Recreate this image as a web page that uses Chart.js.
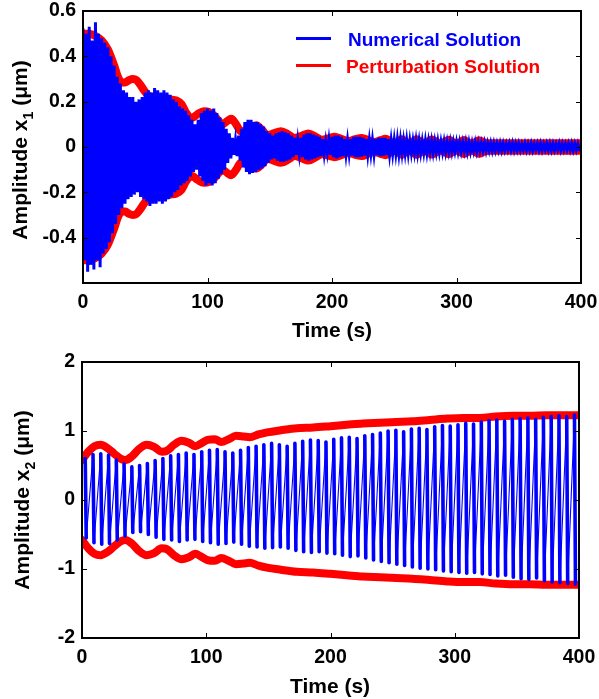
<!DOCTYPE html>
<html><head><meta charset="utf-8">
<script src="https://cdn.jsdelivr.net/npm/chart.js@4"></script>
<style>
html,body{margin:0;padding:0;background:#fff;}
body{width:599px;height:699px;position:relative;overflow:hidden;font-family:"Liberation Sans",Arial,sans-serif;}
canvas{position:absolute;left:0;}
.t{position:absolute;font-weight:bold;white-space:nowrap;color:#000;line-height:24px;}
.yt{font-size:21px;transform:translate(-50%,-50%) rotate(-90deg);}
.xt{font-size:21px;transform:translateX(-50%);}
.sub{font-size:14px;position:relative;top:6px;}
.lg{position:absolute;height:3px;}
</style></head>
<body>
<canvas id="c1" width="599" height="345" style="top:0;width:599px;height:345px"></canvas>
<canvas id="c2" width="599" height="354" style="top:345px;width:599px;height:354px"></canvas>

<div class="t yt" style="left:21px;top:150px">Amplitude x<span class="sub">1</span> (μm)</div>
<div class="t xt" style="left:332px;top:318px">Time (s)</div>
<div class="t yt" style="left:23px;top:500px">Amplitude x<span class="sub">2</span> (μm)</div>
<div class="t xt" style="left:330px;top:674px">Time (s)</div>

<div class="lg" style="left:296px;top:37px;width:35px;background:#0000ff"></div>
<div class="t" style="left:348px;top:28px;font-size:19px;color:#0000ff">Numerical Solution</div>
<div class="lg" style="left:296px;top:64px;width:35px;background:#ff0000"></div>
<div class="t" style="left:346px;top:55px;font-size:19px;color:#ff0000">Perturbation Solution</div>

<script>
// ---------- DATA ----------
// Axis ticks
const timeTicks = [0, 100, 200, 300, 400];
const x1Ticks = [-0.6, -0.4, -0.2, 0, 0.2, 0.4, 0.6];
const x2Ticks = [-2, -1, 0, 1, 2];

// Top plot: numerical solution x1, upper peaks (every 2.5 s) and lower troughs (offset 1.25 s)
const x1PeakStep = 2.5;
const x1Up = [
 0.52,0.50,0.53,0.47,0.55,0.50,0.48,0.46,0.44,0.40,0.36,0.31,0.28,0.25,0.24,0.22,
 0.22,0.20,0.21,0.22,0.24,0.25,0.24,0.26,0.25,0.24,0.25,0.24,0.23,0.21,0.20,0.18,
 0.17,0.16,0.14,0.12,0.10,0.12,0.15,0.16,0.17,0.16,0.17,0.15,0.13,0.11,0.08,0.06,
 0.04,0.03,0.05,0.08,0.11,0.12,0.12,0.11,0.11,0.10,0.09,0.07,0.06,0.05,0.06,0.065,
 0.07,0.065,0.06,0.05,0.04,0.03,0.04,0.055,0.06,0.06,0.055,0.05,0.045,0.035,0.025,0.03,
 0.045,0.05,0.05,0.045,0.035,0.03,0.035,0.045,0.045,0.045,0.04,0.035,0.03,0.03,0.035,0.04,
 0.04,0.04,0.035,0.03,0.03,0.032,0.03,0.028,0.03,0.027,0.025,0.028,0.026,0.025,0.027,0.024,
 0.025,0.023,0.024,0.022,0.023,0.021,0.022,0.02,0.021,0.02,0.019,0.021,0.02,0.018,0.019,0.018,
 0.017,0.018,0.016,0.017,0.016,0.015,0.016,0.015,0.014,0.015,0.016,0.014,0.015,0.013,0.015,0.014,
 0.015,0.013,0.014,0.015,0.013,0.014,0.015,0.014,0.013,0.015,0.014,0.013,0.014,0.015,0.014,0.014
];
const x1Dn = [
 -0.50,-0.55,-0.52,-0.54,-0.50,-0.53,-0.47,-0.45,-0.42,-0.38,-0.34,-0.30,-0.27,-0.25,-0.23,-0.22,
 -0.21,-0.20,-0.22,-0.23,-0.24,-0.26,-0.25,-0.25,-0.24,-0.25,-0.24,-0.23,-0.22,-0.20,-0.19,-0.17,
 -0.16,-0.15,-0.13,-0.11,-0.10,-0.13,-0.15,-0.17,-0.16,-0.17,-0.16,-0.14,-0.12,-0.10,-0.07,-0.05,
 -0.035,-0.04,-0.06,-0.09,-0.11,-0.12,-0.115,-0.11,-0.10,-0.095,-0.085,-0.07,-0.055,-0.05,-0.06,-0.065,
 -0.065,-0.06,-0.055,-0.045,-0.035,-0.03,-0.045,-0.055,-0.06,-0.055,-0.05,-0.045,-0.04,-0.03,-0.025,-0.035,
 -0.045,-0.05,-0.045,-0.04,-0.032,-0.03,-0.038,-0.045,-0.045,-0.042,-0.038,-0.033,-0.03,-0.032,-0.036,-0.04,
 -0.038,-0.036,-0.033,-0.03,-0.029,-0.031,-0.028,-0.027,-0.029,-0.026,-0.025,-0.027,-0.025,-0.024,-0.026,-0.023,
 -0.024,-0.022,-0.023,-0.021,-0.022,-0.02,-0.021,-0.019,-0.02,-0.019,-0.018,-0.02,-0.019,-0.017,-0.018,-0.017,
 -0.016,-0.017,-0.015,-0.016,-0.015,-0.014,-0.015,-0.014,-0.013,-0.014,-0.015,-0.013,-0.014,-0.012,-0.014,-0.013,
 -0.014,-0.012,-0.013,-0.014,-0.012,-0.013,-0.014,-0.013,-0.012,-0.014,-0.013,-0.012,-0.013,-0.014,-0.013,-0.013
];

// Top plot: perturbation envelope of x1 (time, amplitude)
const env1T = [0,5,10,15,20,25,28,31,34,37, 40,43,46,49,52,55,60,65,70,75,
 79,83,87,92,97,101,105,109,112,116, 119,123,127,133,139,144,148,153,159,165,
 170,176,181,187,192,197,202,208,213,218, 224,229,234,239,243,247,250,253,256,259,
 262,265,268,271,274,277,280,284,287,290, 294,297,300,303,306,309,312,315,318,322, 326,330,400];
const env1A = [0.50,0.50,0.49,0.47,0.43,0.36,0.31,0.285,0.285,0.295, 0.30,0.295,0.275,0.25,0.23,0.22,0.215,0.215,0.21,0.205,
 0.19,0.15,0.127,0.145,0.158,0.155,0.14,0.115,0.10,0.115, 0.125,0.10,0.068,0.08,0.096,0.075,0.052,0.06,0.07,0.055,
 0.04,0.05,0.06,0.045,0.032,0.038,0.045,0.035,0.026,0.033, 0.04,0.03,0.022,0.03,0.036,0.024,0.015,0.024,0.034,0.024,
 0.015,0.024,0.034,0.024,0.015,0.023,0.033,0.023,0.015,0.022, 0.032,0.022,0.015,0.022,0.031,0.022,0.015,0.021,0.03,0.021, 0.017,0.017,0.017];

// Bottom plot: numerical solution x2, one stroke per cycle (period ~6.25 s, first at 3 s)
const x2Start = 3, x2Period = 6.25;
const x2Up = [
 0.60,0.66,0.67,0.65,0.58,0.52,0.48,0.50,0.53,0.57,0.60,0.64,0.66,0.68,0.66,0.70,
 0.72,0.73,0.70,0.68,0.72,0.76,0.78,0.80,0.82,0.80,0.78,0.82,0.85,0.87,0.86,0.84,
 0.88,0.90,0.91,0.89,0.93,0.95,0.97,1.00,1.01,0.99,1.03,1.04,1.02,1.06,1.08,1.07,
 1.09,1.11,1.10,1.13,1.15,1.16,1.14,1.17,1.18,1.19,1.17,1.20,1.21,1.22,1.21,1.23
];
const x2Dn = [
 -0.55,-0.62,-0.64,-0.63,-0.58,-0.52,-0.47,-0.46,-0.50,-0.54,-0.57,-0.58,-0.60,-0.58,-0.57,-0.60,
 -0.62,-0.64,-0.63,-0.61,-0.64,-0.67,-0.68,-0.70,-0.69,-0.68,-0.70,-0.73,-0.75,-0.76,-0.75,-0.77,
 -0.78,-0.80,-0.82,-0.81,-0.84,-0.87,-0.89,-0.91,-0.93,-0.95,-0.97,-0.99,-1.00,-1.01,-1.03,-1.04,
 -1.05,-1.06,-1.05,-1.07,-1.08,-1.10,-1.09,-1.12,-1.14,-1.15,-1.13,-1.17,-1.19,-1.20,-1.21,-1.22
];

// Bottom plot: perturbation envelope of x2 (time, amplitude)
const env2T = [0,5,10,15,20,26,31,35,40,46, 52,58,64,68,74,80,86,91,96,101,
 107,112,118,124,130,135,142,149,160,173, 186,200,213,226,240,253,266,280,294,307, 320,333,347,360,374,387,400];
const env2A = [0.58,0.70,0.78,0.80,0.76,0.67,0.60,0.58,0.63,0.74, 0.80,0.77,0.70,0.71,0.80,0.86,0.83,0.78,0.82,0.87,
 0.88,0.84,0.88,0.93,0.92,0.91,0.95,0.98,1.01,1.04, 1.05,1.07,1.09,1.11,1.12,1.13,1.14,1.16,1.18,1.19, 1.19,1.21,1.22,1.22,1.23,1.23,1.23];

// ---------- BUILD ----------
const BLUE = '#0000ff', RED = '#ff0000';
const x1Line = [];
x1Up.forEach((v, i) => { x1Line.push({x: i * x1PeakStep, y: v}); x1Line.push({x: i * x1PeakStep + x1PeakStep / 2, y: x1Dn[i]}); });
const x2Line = [];
x2Up.forEach((v, i) => { const c = x2Start + i * x2Period; x2Line.push({x: c - 0.4, y: v}); x2Line.push({x: c + 0.4, y: x2Dn[i]}); });
const env1Up = env1T.map((t, i) => ({x: t, y: env1A[i]}));
const env1Lo = env1T.map((t, i) => ({x: t, y: -env1A[i]}));
const env2Up = env2T.map((t, i) => ({x: t, y: env2A[i]}));
const env2Lo = env2T.map((t, i) => ({x: t, y: -env2A[i]}));

Chart.defaults.font.family = "'Liberation Sans', Arial, sans-serif";
Chart.defaults.color = '#000';

const framePlugin = {
  id: 'frame',
  afterDatasetsDraw(chart) {
    const {ctx, chartArea: a, scales: {x, y}} = chart;
    ctx.save();
    ctx.strokeStyle = '#000';
    ctx.lineWidth = 1;
    ctx.beginPath();
    x.ticks.forEach(t => { const px = Math.round(x.getPixelForValue(t.value)) + 0.5;
      ctx.moveTo(px, a.bottom); ctx.lineTo(px, a.bottom - 5); ctx.moveTo(px, a.top); ctx.lineTo(px, a.top + 5); });
    y.ticks.forEach(t => { const py = Math.round(y.getPixelForValue(t.value)) + 0.5;
      ctx.moveTo(a.left, py); ctx.lineTo(a.left + 5, py); ctx.moveTo(a.right, py); ctx.lineTo(a.right - 5, py); });
    ctx.stroke();
    ctx.lineWidth = 2;
    ctx.strokeRect(a.left, a.top, a.right - a.left, a.bottom - a.top);
    ctx.restore();
  }
};

function makeChart(id, blueData, blueWidth, envUp, envLo, yTicks, yW, xH, pad, fmt, hideVal) {
  const tickFont = {size: 19.5, weight: 'bold'};
  return new Chart(document.getElementById(id), {
    type: 'line',
    data: {datasets: [
      {label: 'Numerical Solution', data: blueData, borderColor: BLUE, borderWidth: 2, pointRadius: 0, tension: 0, order: 0,
        borderCapStyle: 'round', segment: {borderWidth: blueWidth}},
      {label: 'Perturbation Solution', data: envUp, borderColor: RED, borderWidth: 8, pointRadius: 0, cubicInterpolationMode: 'monotone', borderCapStyle: 'round', borderJoinStyle: 'round', order: 1},
      {label: 'Perturbation Solution (lower)', data: envLo, borderColor: RED, borderWidth: 8, pointRadius: 0, cubicInterpolationMode: 'monotone', borderCapStyle: 'round', borderJoinStyle: 'round', order: 1}
    ]},
    options: {
      responsive: false, animation: false, devicePixelRatio: 1,
      layout: {padding: pad},
      plugins: {legend: {display: false}, tooltip: {enabled: false}},
      scales: {
        x: {type: 'linear', min: timeTicks[0], max: timeTicks[timeTicks.length - 1],
          afterBuildTicks: s => { s.ticks = timeTicks.map(v => ({value: v})); },
          grid: {display: false, drawTicks: false}, border: {display: false},
          ticks: {font: tickFont, color: '#000', padding: 8, maxRotation: 0, autoSkip: false, callback: v => String(v)},
          afterFit: s => { s.height = xH; s.paddingLeft = 0; s.paddingRight = 0; }
        },
        y: {type: 'linear', min: yTicks[0], max: yTicks[yTicks.length - 1],
          afterBuildTicks: s => { s.ticks = yTicks.map(v => ({value: v})); },
          grid: {display: false, drawTicks: false}, border: {display: false},
          ticks: {font: tickFont, color: '#000', padding: 7, autoSkip: false, callback: v => (v === hideVal ? '' : fmt(v))},
          afterFit: s => { s.width = yW; s.paddingTop = 0; s.paddingBottom = 0; }
        }
      }
    },
    plugins: [framePlugin]
  });
}

// top: dense 3 px strokes; bottom: thick strokes for each cycle, thin connecting diagonals
makeChart('c1', x1Line, () => 3, env1Up, env1Lo, x1Ticks, 83, 62, {top: 11, right: 18, left: 0, bottom: 0},
  v => String(Math.round(v * 10) / 10), -0.6);
makeChart('c2', x2Line, ctx => (ctx.p0DataIndex % 2 === 0 ? 3.6 : 1.1), env2Up, env2Lo, x2Ticks, 82, 61, {top: 17, right: 20, left: 0, bottom: 0},
  v => String(Math.round(v)), null);
</script>
</body></html>
